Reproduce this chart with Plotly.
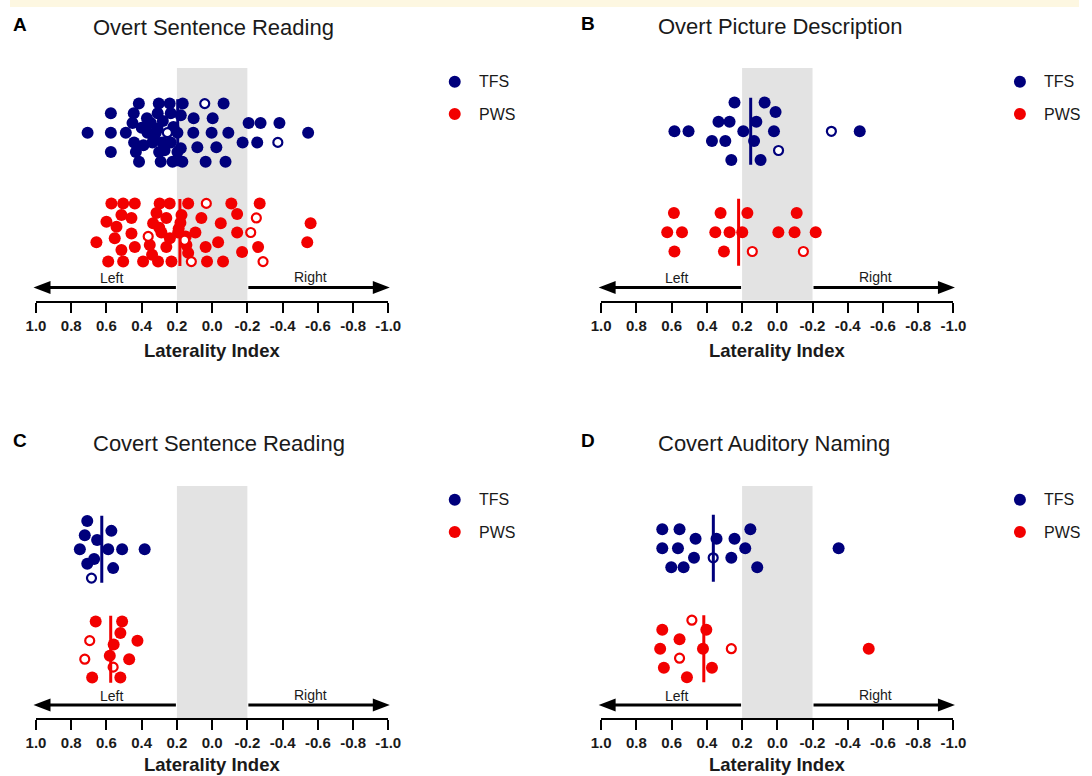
import plotly.graph_objects as go

W, H = 1092, 776
FONT = "Liberation Sans, Arial, Helvetica, sans-serif"
NAVY = "#00007c"
RED = "#f20000"
GREY_BAND = "#e3e3e3"
INK = "#1a1a1a"

# ---------------- data ----------------
tick_values = [1.0, 0.8, 0.6, 0.4, 0.2, 0.0, -0.2, -0.4, -0.6, -0.8, -1.0]
tick_labels = ["1.0", "0.8", "0.6", "0.4", "0.2", "0.0", "-0.2", "-0.4", "-0.6", "-0.8", "-1.0"]
symmetric_zone = [0.2, -0.2]
group_names = ["TFS", "PWS"]
panel_letters = ["A", "B", "C", "D"]
panel_titles = ["Overt Sentence Reading", "Overt Picture Description",
                "Covert Sentence Reading", "Covert Auditory Naming"]
axis_title = "Laterality Index"
side_labels = ["Left", "Right"]

# Panel A - Overt Sentence Reading (LI value, swarm row)
a_tfs_li = [0.416, 0.303, 0.241, 0.167, -0.065,
            0.575, 0.445, 0.309, 0.235, 0.178, 0.105, -0.003,
            0.452, 0.348, -0.207, -0.275, -0.382,
            0.707, 0.575, 0.490, 0.367, 0.320, 0.197, 0.107, 0.003, -0.092, -0.545,
            0.443, 0.339, 0.282, 0.235, -0.173, -0.256,
            0.084, -0.024, 0.178,
            0.575, 0.433, 0.301, 0.197,
            0.415, 0.292, 0.225, 0.169, 0.037, -0.076,
            0.400, 0.370, 0.330, 0.280, 0.220, 0.270, 0.390, 0.310]
a_tfs_row = [3, 3, 3, 3, 3,
             2, 2, 2, 2, 1.8, 1.5, 1.5,
             1, 1, 1, 1, 1,
             0, 0, 0, 0, 0, 0, 0, 0, 0, 0,
             -1, -1, -1, -1, -1, -1,
             -1.5, -1.5, -1.6,
             -2, -2, -2, -2,
             -3, -3, -3, -3, -3, -3,
             0.5, 1.5, -0.5, 1.2, 0.6, -1.8, -1.3, 0.4]
a_tfs_open_li = [0.042, 0.254, -0.373]
a_tfs_open_row = [3, 0, -1]

a_pws_li = [0.572, 0.505, 0.439, 0.298, 0.241, 0.136, -0.109, -0.270,
            0.515, 0.316, 0.174, -0.142,
            0.458, 0.260, 0.061,
            0.600, 0.335, -0.049, -0.559,
            0.543,
            0.458, 0.288, 0.193, 0.095, -0.142,
            0.553,
            0.657, -0.034, -0.540,
            0.354, 0.146,
            0.439, 0.260, 0.037, -0.261,
            0.515,
            0.136, -0.170,
            0.341,
            0.590, 0.505, 0.392, 0.307, 0.231, 0.029, -0.062,
            0.300, 0.190, 0.150, 0.240, 0.180]
a_pws_row = [3, 3, 3, 3, 3, 3, 3, 3,
             1.8, 2, 1.8, 1.9,
             1.5, 1.5, 1.5,
             1.1, 0.95, 0.95, 0.95,
             0.6,
             -0.1, 0, 0, 0, 0,
             -0.6,
             -1, -1, -1,
             -1.3, -1.3,
             -1.5, -1.5, -1.5, -1.5,
             -1.8,
             -2.1, -2,
             -2.3,
             -3, -3, -3, -3, -3, -3, -3,
             0.5, 0.4, -0.4, -0.6, 1.0]
a_pws_open_li = [0.033, -0.251, -0.219, 0.363, 0.156, 0.118, -0.289]
a_pws_open_row = [3, 1.5, 0, -0.4, -0.8, -3, -3]

# Panel B - Overt Picture Description
b_tfs_li = [0.243, 0.072, 0.010, 0.334, 0.271, 0.119, 0.584, 0.504, 0.193, 0.019,
            -0.468, 0.371, 0.295, 0.132, 0.261, 0.095]
b_tfs_row = [3, 3, 2, 1, 1, 1, 0, 0, 0, 0, 0, -1, -1, -1, -3, -3]
b_tfs_open_li = [-0.307, -0.007]
b_tfs_open_row = [0, -2]
b_pws_li = [0.587, 0.322, 0.170, -0.110, 0.625, 0.541, 0.352, 0.271, 0.199, -0.006,
            -0.098, -0.218, 0.584, 0.303]
b_pws_row = [2, 2, 2, 2, 0, 0, 0, 0, 0, 0, 0, 0, -2, -2]
b_pws_open_li = [0.142, -0.148]
b_pws_open_row = [-2, -2]

# Panel C - Covert Sentence Reading
c_tfs_li = [0.709, 0.723, 0.572, 0.653, 0.751, 0.590, 0.511, 0.383, 0.670, 0.709, 0.562]
c_tfs_row = [2.95, 1.47, 1.92, 0.96, 0, 0, 0, 0, -1.0, -1.5, -1.96]
c_tfs_open_li = [0.685]
c_tfs_open_row = [-3]
c_pws_li = [0.661, 0.511, 0.521, 0.424, 0.559, 0.581, 0.471, 0.681, 0.521]
c_pws_row = [2.9, 2.9, 1.7, 0.9, 0.5, -0.66, -1.03, -2.93, -2.93]
c_pws_open_li = [0.695, 0.723, 0.562]
c_pws_open_row = [0.9, -1.03, -1.86]

# Panel D - Covert Auditory Naming
d_tfs_li = [0.653, 0.555, 0.153, 0.464, 0.345, 0.243, 0.653, 0.564, 0.182, -0.348,
            0.473, 0.261, 0.602, 0.532, 0.114]
d_tfs_row = [2, 2, 2, 1, 1, 1, 0, 0, 0, 0, -1, -1, -2, -2, -2]
d_tfs_open_li = [0.364]
d_tfs_open_row = [-1]
d_pws_li = [0.653, 0.403, 0.555, 0.665, 0.422, -0.519, 0.644, 0.371, 0.513]
d_pws_row = [2, 2, 1, 0, 0, 0, -2, -2, -3]
d_pws_open_li = [0.485, 0.261, 0.555]
d_pws_open_row = [3, 0, -1]

# ---------------- layout geometry (target pixels) ----------------
geometry = [
    dict(x0=34.5, x1=387.0, top=68, bottom=300.5, c_tfs=132.7, c_pws=232.5, row=9.7,
         title_x=90, title_y=28, letter_x=19, letter_y=25, label_dy=50),
    dict(x0=600.0, x1=952.5, top=68, bottom=300.5, c_tfs=131.3, c_pws=232.3, row=9.6,
         title_x=655, title_y=27, letter_x=587, letter_y=23, label_dy=50),
    dict(x0=34.5, x1=387.0, top=486, bottom=718, c_tfs=549.3, c_pws=649.3, row=9.6,
         title_x=90, title_y=443, letter_x=19, letter_y=440, label_dy=46),
    dict(x0=600.0, x1=952.5, top=486, bottom=718, c_tfs=548.3, c_pws=648.7, row=9.5,
         title_x=655, title_y=443, letter_x=587, letter_y=440, label_dy=46),
]

panel_data = [
    ((a_tfs_li, a_tfs_row, a_tfs_open_li, a_tfs_open_row),
     (a_pws_li, a_pws_row, a_pws_open_li, a_pws_open_row)),
    ((b_tfs_li, b_tfs_row, b_tfs_open_li, b_tfs_open_row),
     (b_pws_li, b_pws_row, b_pws_open_li, b_pws_open_row)),
    ((c_tfs_li, c_tfs_row, c_tfs_open_li, c_tfs_open_row),
     (c_pws_li, c_pws_row, c_pws_open_li, c_pws_open_row)),
    ((d_tfs_li, d_tfs_row, d_tfs_open_li, d_tfs_open_row),
     (d_pws_li, d_pws_row, d_pws_open_li, d_pws_open_row)),
]
group_colors = [NAVY, RED]

# horizontal mapping of the photographed page (observed: paper spans ~8.5..1078 px)
X_OFF, X_SCALE = 8.5, 0.9795


def xp(px):
    return (px - X_OFF) / (X_SCALE * W)


def yp(py):
    return 1 - py / H


fig = go.Figure()
shapes = []
annotations = []
layout_axes = {}

# top strip
shapes.append(dict(type="rect", xref="paper", yref="paper", x0=0, x1=1, y0=yp(7), y1=1,
                   fillcolor="#fdf7e1", line=dict(width=0), layer="below"))

for i, (geo, groups) in enumerate(zip(geometry, panel_data)):
    n = "" if i == 0 else str(i + 1)
    xa, ya = "x" + n, "y" + n
    row_px = geo["row"]
    centers = [(geo["c_pws"] - geo["c_tfs"]) / row_px, 0.0]
    y_range = [(geo["c_pws"] - geo["bottom"]) / row_px, (geo["c_pws"] - geo["top"]) / row_px]

    layout_axes["xaxis" + n] = dict(
        domain=[xp(geo["x0"]), xp(geo["x1"])], range=[1.0, -1.0], anchor=ya,
        tickvals=tick_values, ticktext=tick_labels, ticks="outside", ticklen=10,
        tickwidth=2, tickcolor="black", showline=True, linecolor="black", linewidth=2,
        showgrid=False, zeroline=False, fixedrange=True,
        tickfont=dict(family=FONT, size=15, color=INK, weight="bold"))
    layout_axes["yaxis" + n] = dict(
        domain=[yp(geo["bottom"]), yp(geo["top"])], range=y_range, anchor=xa,
        visible=False, fixedrange=True)

    # grey symmetric zone
    shapes.append(dict(type="rect", xref=xa, yref=ya + " domain",
                       x0=symmetric_zone[0], x1=symmetric_zone[1], y0=0, y1=1,
                       fillcolor=GREY_BAND, line=dict(width=0), layer="below"))

    for g, (li, rows, oli, orow) in enumerate(groups):
        color = group_colors[g]
        c = centers[g]
        fig.add_trace(go.Scatter(
            x=li, y=[c + r for r in rows], xaxis=xa, yaxis=ya, mode="markers",
            marker=dict(size=12, color=color, line=dict(width=0)),
            hoverinfo="skip", showlegend=False))
        fig.add_trace(go.Scatter(
            x=oli, y=[c + r for r in orow], xaxis=xa, yaxis=ya, mode="markers",
            marker=dict(size=9, color="white", line=dict(width=2.2, color=color)),
            hoverinfo="skip", showlegend=False))
        allv = list(li) + list(oli)
        mean = sum(allv) / len(allv)
        half = 33.5 / row_px
        shapes.append(dict(type="line", xref=xa, yref=ya, x0=mean, x1=mean,
                           y0=c - half, y1=c + half,
                           line=dict(color=color, width=3), layer="above"))

    # direction arrows
    span = geo["x1"] - geo["x0"]
    left_edge = geo["x0"] + (1 - symmetric_zone[0]) / 2 * span
    right_edge = geo["x0"] + (1 - symmetric_zone[1]) / 2 * span
    ay = geo["bottom"] - 13
    tipL, tipR = geo["x0"] - 2.5, geo["x1"] + 1.5
    head, hh = 17, 6.5
    shapes.append(dict(type="line", xref="paper", yref="paper",
                       x0=xp(left_edge - 1), x1=xp(tipL + head - 1), y0=yp(ay), y1=yp(ay),
                       line=dict(color="black", width=3)))
    shapes.append(dict(type="path", xref="paper", yref="paper",
                       path=f"M {xp(tipL)},{yp(ay)} L {xp(tipL + head)},{yp(ay - hh)} "
                            f"L {xp(tipL + head)},{yp(ay + hh)} Z",
                       fillcolor="black", line=dict(width=0)))
    shapes.append(dict(type="line", xref="paper", yref="paper",
                       x0=xp(right_edge + 1), x1=xp(tipR - head + 1), y0=yp(ay), y1=yp(ay),
                       line=dict(color="black", width=3)))
    shapes.append(dict(type="path", xref="paper", yref="paper",
                       path=f"M {xp(tipR)},{yp(ay)} L {xp(tipR - head)},{yp(ay - hh)} "
                            f"L {xp(tipR - head)},{yp(ay + hh)} Z",
                       fillcolor="black", line=dict(width=0)))
    annotations.append(dict(text=side_labels[0], xref="paper", yref="paper",
                            x=xp(geo["x0"] + 75.5), y=yp(geo["bottom"] - 22.5),
                            showarrow=False, xanchor="center", yanchor="middle",
                            font=dict(family=FONT, size=14, color=INK)))
    annotations.append(dict(text=side_labels[1], xref="paper", yref="paper",
                            x=xp(geo["x0"] + 274.5), y=yp(geo["bottom"] - 23.5),
                            showarrow=False, xanchor="center", yanchor="middle",
                            font=dict(family=FONT, size=14, color=INK)))

    # axis title
    annotations.append(dict(text=axis_title, xref="paper", yref="paper",
                            x=xp((geo["x0"] + geo["x1"]) / 2),
                            y=yp(geo["bottom"] + geo["label_dy"]),
                            showarrow=False, xanchor="center", yanchor="middle",
                            font=dict(family=FONT, size=18.5, color=INK, weight="bold")))
    # panel title and letter
    annotations.append(dict(text=panel_titles[i], xref="paper", yref="paper",
                            x=xp(geo["title_x"]), y=yp(geo["title_y"]),
                            showarrow=False, xanchor="left", yanchor="middle",
                            font=dict(family=FONT, size=22, color=INK)))
    annotations.append(dict(text=panel_letters[i], xref="paper", yref="paper",
                            x=xp(geo["letter_x"]), y=yp(geo["letter_y"]),
                            showarrow=False, xanchor="center", yanchor="middle",
                            font=dict(family=FONT, size=19, color="black", weight="bold")))
    # legend
    for g, name in enumerate(group_names):
        cx = geo["x0"] + 419
        cy = geo["top"] + 13.7 + g * 32.3
        shapes.append(dict(type="circle", xref="paper", yref="paper",
                           x0=xp(cx - 6), x1=xp(cx + 6), y0=yp(cy + 6), y1=yp(cy - 6),
                           fillcolor=group_colors[g], line=dict(width=0)))
        annotations.append(dict(text=name, xref="paper", yref="paper",
                                x=xp(cx + 22), y=yp(cy), showarrow=False,
                                xanchor="left", yanchor="middle",
                                font=dict(family=FONT, size=16, color=INK)))

fig.update_layout(
    width=W, height=H, margin=dict(l=0, r=0, t=0, b=0),
    paper_bgcolor="white", plot_bgcolor="rgba(0,0,0,0)",
    showlegend=False, shapes=shapes, annotations=annotations, **layout_axes)

page_fix = (
    "var st = document.createElement('style');"
    "st.textContent = 'html,body' + String.fromCharCode(123) + 'margin:0;padding:0;overflow:hidden'"
    " + String.fromCharCode(125);"
    "document.head.appendChild(st);"
)

fig.write_html(
    "out.html",
    config={"displayModeBar": False, "responsive": False},
    post_script=page_fix,
)
